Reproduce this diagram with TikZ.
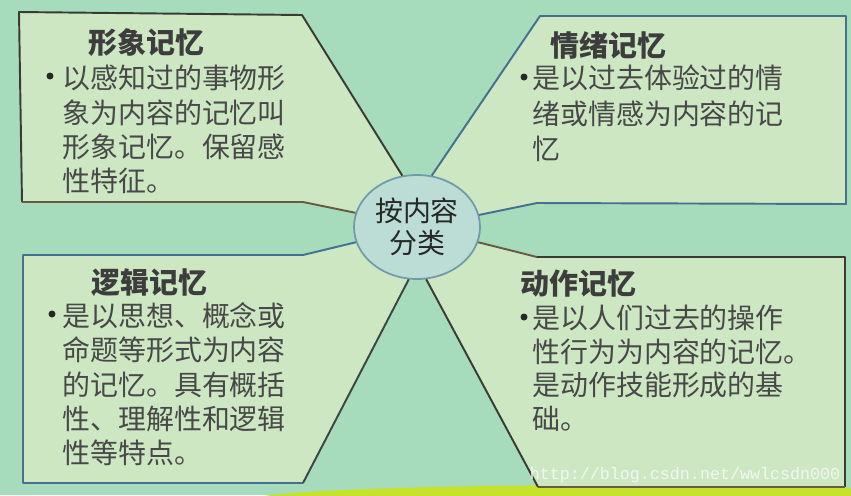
\documentclass[tikz,border=0pt]{standalone}
\usepackage{fontspec}
\setmainfont{Noto Sans CJK SC}
\newfontfamily\wmfont{Liberation Mono}
\usetikzlibrary{backgrounds,shapes.geometric}
\definecolor{bgmint}{HTML}{A6DBBC}
\definecolor{panelfill}{HTML}{CDE7C3}
\definecolor{hubfill}{HTML}{BCDCD6}
\definecolor{hubline}{HTML}{6F9CA8}
\definecolor{darkline}{HTML}{3A3C34}
\definecolor{brownline}{HTML}{6A5A42}
\definecolor{blueline}{HTML}{45708F}
\definecolor{glare}{HTML}{C6E22A}
\definecolor{ink}{HTML}{262826}

\begin{document}
\begin{tikzpicture}[x=0.02cm,y=-0.02cm,
    edge/.style={line width=1.1pt,line join=round},
    title/.style={font=\fontsize{16.5}{19}\selectfont\bfseries,text=ink!90,anchor=west,inner sep=0pt},
    body/.style={font=\fontsize{15.9}{19}\selectfont,text=ink!85,anchor=west,inner sep=0pt,
      text height=0.88em,text depth=0.12em},
    dot/.style={circle,fill=ink,inner sep=0pt,minimum size=0.14cm},
    hub/.style={ellipse,draw=hubline,line width=1pt,fill=hubfill,minimum width=2.52cm,
      minimum height=2.08cm,inner sep=0pt,align=center,text=ink,
      font=\fontsize{15.9}{18}\selectfont}]
    \useasboundingbox (0,0) rectangle (851,495);
    \node[hub] (hub) at (417,227) {按内容\\分类};
    \begin{scope}[on background layer]
      \fill[bgmint] (0,0) rectangle (851,495);
      \fill[glare] (620,500) ellipse (370 and 15);
      \fill[panelfill] (19,12) -- (302,15) -- (hub.106) -- (hub.167) -- (303,202) -- (22,202) -- cycle;
      \fill[panelfill] (540,16) -- (846,16) -- (846,204) -- (537,203) -- (hub.11) -- (hub.74) -- cycle;
      \fill[panelfill] (23,255) -- (303,255) -- (hub.194) -- (hub.261) -- (303,483) -- (23,483) -- cycle;
      \fill[panelfill] (hub.346) -- (537,257) -- (845,257) -- (845,487) -- (538,487) -- (hub.280) -- cycle;
    \end{scope}
    % panel outlines
    \draw[edge,darkline] (hub.106) -- (302,15) -- (19,12) -- (22,202);
    \draw[edge,brownline] (22,202) -- (303,202) -- (hub.167);
    \draw[edge,blueline] (hub.74) -- (540,16) -- (846,16) -- (846,204) -- (537,203) -- (hub.11);
    \draw[edge,blueline] (hub.194) -- (303,255) -- (23,255) -- (23,483) -- (303,483);
    \draw[edge,darkline!80!blueline] (303,483) -- (hub.261);
    \draw[edge,brownline] (hub.346) -- (537,257);
    \draw[edge,darkline] (537,257) -- (845,257) -- (845,487);
    \draw[edge,brownline] (845,487) -- (538,487);
    \draw[edge,darkline] (538,487) -- (hub.280);
    % 形象记忆
    \node[title] (xx-title) at (88,43) {形象记忆};
    \node[dot] (xx-dot) at (50,76) {};
    \foreach \txt [count=\i] in {以感知过的事物形,象为内容的记忆叫,形象记忆。保留感,性特征。}
      \node[body] (xx-\i) at (62,{82+34.4*(\i-1)}) {\txt};
    % 情绪记忆
    \node[title] (qx-title) at (550,45) {情绪记忆};
    \node[dot] (qx-dot) at (524,77) {};
    \foreach \txt [count=\i] in {是以过去体验过的情,绪或情感为内容的记,忆}
      \node[body] (qx-\i) at (532,{82+35.4*(\i-1)}) {\txt};
    % 逻辑记忆
    \node[title] (lj-title) at (91,283) {逻辑记忆};
    \node[dot] (lj-dot) at (52,314) {};
    \foreach \txt [count=\i] in {是以思想、概念或,命题等形式为内容,的记忆。具有概括,性、理解性和逻辑,性等特点。}
      \node[body] (lj-\i) at (62,{320+34.3*(\i-1)}) {\txt};
    % 动作记忆
    \node[title] (dz-title) at (520,283) {动作记忆};
    \node[dot] (dz-dot) at (524,317) {};
    \foreach \txt [count=\i] in {是以人们过去的操作,性行为为内容的记忆。,是动作技能形成的基,础。}
      \node[body] (dz-\i) at (532,{322+33.6*(\i-1)}) {\txt};
    \node[font=\wmfont\fontsize{9.5}{11}\selectfont,text=white!70!panelfill,inner sep=0pt]
      (wm) at (685,475) {http://blog.csdn.net/wwlcsdn000};
\end{tikzpicture}
\end{document}
